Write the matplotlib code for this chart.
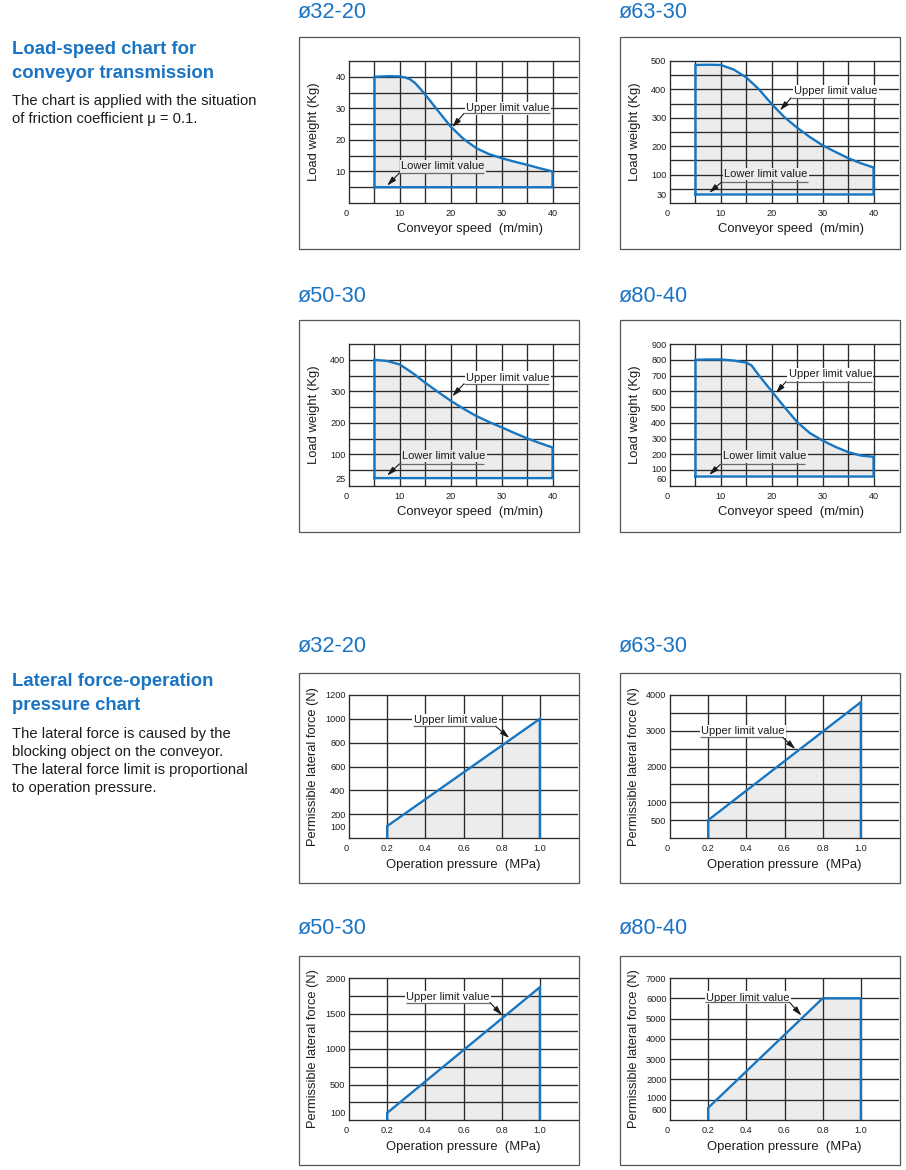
import matplotlib
matplotlib.use('Agg')
import matplotlib.pyplot as plt
import matplotlib.transforms as mtransforms
from matplotlib.patches import Rectangle

plt.rcParams['font.family'] = ['Liberation Sans', 'DejaVu Sans']

# ---------------- data ----------------
# Load-speed charts (conveyor speed m/min -> load weight kg)
speed_32_20 = [5, 8, 10, 11, 12, 13, 14, 15, 16, 17, 18, 20, 22.5, 25, 27.5, 30, 32.5, 35, 37.5, 40]
load_32_20 = [40, 40.2, 40.1, 39.8, 39.2, 38, 36.2, 34.3, 32.3, 30.2, 28.2, 24.2, 20.3, 17.4, 15.5, 14.2, 13.1, 12.1, 11.0, 10.0]
lower_32_20 = 5

speed_63_30 = [5, 7.5, 10, 12.5, 15, 17.5, 20, 22.5, 25, 27.5, 30, 32.5, 35, 37.5, 40]
load_63_30 = [486, 487, 486, 470, 442, 400, 348, 302, 265, 232, 203, 180, 158, 140, 125]
lower_63_30 = 30

speed_50_30 = [5, 7.5, 10, 12.5, 15, 17.5, 20, 22.5, 25, 27.5, 30, 32.5, 35, 37.5, 40]
load_50_30 = [400, 396, 385, 358, 327, 298, 270, 245, 222, 203, 186, 168, 151, 136, 122]
lower_50_30 = 25

speed_80_40 = [5, 7.5, 10, 12.5, 15, 16, 17.5, 20, 22.5, 25, 27.5, 30, 32.5, 35, 37.5, 40]
load_80_40 = [800, 802, 802, 795, 782, 765, 700, 600, 500, 405, 335, 288, 248, 215, 193, 185]
lower_80_40 = 60

speed_ticks = [0, 10, 20, 30, 40]
yticks_32_20 = [10, 20, 30, 40]
yticks_63_30 = [30, 100, 200, 300, 400, 500]
yticks_50_30 = [25, 100, 200, 300, 400]
yticks_80_40 = [60, 100, 200, 300, 400, 500, 600, 700, 800, 900]

# Lateral force charts (operation pressure MPa -> permissible lateral force N)
press_32_20 = [0.2, 1.0]
force_32_20 = [100, 1000]
press_63_30 = [0.2, 1.0]
force_63_30 = [500, 3800]
press_50_30 = [0.2, 1.0]
force_50_30 = [100, 1870]
press_80_40 = [0.2, 0.8, 1.0]
force_80_40 = [600, 6000, 6000]

press_ticks = [0, 0.2, 0.4, 0.6, 0.8, 1.0]
press_labels = ['0', '0.2', '0.4', '0.6', '0.8', '1.0']
fticks_32_20 = [100, 200, 400, 600, 800, 1000, 1200]
fticks_63_30 = [500, 1000, 2000, 3000, 4000]
fticks_50_30 = [100, 500, 1000, 1500, 2000]
fticks_80_40 = [600, 1000, 2000, 3000, 4000, 5000, 6000, 7000]

# ---------------- style ----------------
W, H = 906, 1170
BLUE = '#1776c2'
TITLE_BLUE = '#1a74c4'
GRID = '#2a2a2a'
FILL = '#ececec'
FRAME = '#555555'
TXT = '#1e1c1d'

fig = plt.figure(figsize=(W / 100, H / 100), dpi=100)


def px_axes(x0, y0, x1, y1):
    return fig.add_axes([x0 / W, 1 - y1 / H, (x1 - x0) / W, (y1 - y0) / H])


def frame(x0, y0, x1, y1):
    fig.patches.append(Rectangle((x0 / W, 1 - y1 / H), (x1 - x0) / W, (y1 - y0) / H,
                                 transform=fig.transFigure, fill=False,
                                 edgecolor=FRAME, lw=0.9, zorder=0))


def ftext(x, y, s, **kw):
    fig.text(x / W, 1 - y / H, s, **kw)


def style_axes(ax, xgrid, ygrid, xticks, xlabels, yticks, ymax):
    for gx in xgrid:
        ax.axvline(gx, color=GRID, lw=0.95, zorder=2)
    for gy in ygrid:
        ax.axhline(gy, color=GRID, lw=0.95, zorder=2)
    for side in ['left', 'bottom', 'top']:
        ax.spines[side].set_color(GRID)
        ax.spines[side].set_linewidth(0.95)
    ax.spines['right'].set_visible(False)
    ax.set_xticks(xticks)
    ax.set_xticklabels(xlabels)
    ax.set_yticks(yticks)
    ax.set_yticklabels([str(t) for t in yticks])
    ax.tick_params(length=0, labelsize=6.6, colors=TXT, pad=2.5)
    ax.tick_params(axis='x', pad=4)
    ax.get_xticklabels()[0].set_horizontalalignment('right')
    # the two lowest labels sit very close together on some charts: spread them a touch
    if (yticks[1] - yticks[0]) < 0.07 * ymax:
        labs = ax.get_yticklabels()
        labs[0].set_transform(labs[0].get_transform() +
                              mtransforms.ScaledTranslation(0, -2 / 100, fig.dpi_scale_trans))
        labs[1].set_transform(labs[1].get_transform() +
                              mtransforms.ScaledTranslation(0, 2 / 100, fig.dpi_scale_trans))
    ax.set_facecolor('white')


def note(ax, text, tx, ty, ux0, ux1, uy, start, end, bg):
    ax.text(tx, ty, text, fontsize=8, color=TXT, va='center', ha='left', zorder=5,
            bbox=dict(boxstyle='square,pad=0.12', facecolor=bg, edgecolor='none'))
    ax.plot([ux0, ux1], [uy, uy], color='#6a6a6a', lw=0.9, zorder=5, solid_capstyle='butt')
    ax.annotate('', xy=end, xytext=start, zorder=6,
                arrowprops=dict(arrowstyle='-|>,head_length=0.55,head_width=0.16',
                                color='#1a1a1a', lw=0.8, shrinkA=0, shrinkB=0,
                                mutation_scale=10))


def load_chart(px, speeds, loads, lower, ymax, ystep, yticks, up, low):
    x0, y0, x1, y1 = px
    frame(x0 - 50, y0 - 24, x1 + 1, y1 + 46)
    ax = px_axes(x0, y0, x1, y1)
    ax.set_xlim(0, 45)
    ax.set_ylim(0, ymax)
    xgrid = [5, 10, 15, 20, 25, 30, 35, 40]
    ygrid = [ystep * k for k in range(1, int(round(ymax / ystep)))]
    style_axes(ax, xgrid, ygrid, speed_ticks, [str(t) for t in speed_ticks], yticks, ymax)
    ax.fill_between(speeds, lower, loads, color=FILL, lw=0, zorder=1)
    xs = [speeds[0]] + list(speeds) + [speeds[-1], speeds[0]]
    ys = [lower] + list(loads) + [lower, lower]
    ax.plot(xs, ys, color=BLUE, lw=1.7, zorder=4, solid_joinstyle='miter')
    note(ax, 'Upper limit value', *up, bg='white')
    note(ax, 'Lower limit value', *low, bg=FILL)
    ftext((x0 + x1) / 2 + 6, y1 + 26, 'Conveyor speed  (m/min)', fontsize=9.4,
          color=TXT, ha='center', va='center')
    ftext(x0 - 35, (y0 + y1) / 2, 'Load weight (Kg)', fontsize=9.4, color=TXT,
          ha='center', va='center', rotation=90)
    return ax


def force_chart(px, press, force, ymax, ystep, yticks, up):
    x0, y0, x1, y1 = px
    frame(x0 - 50, y0 - 22, x1 + 1, y1 + 45)
    ax = px_axes(x0, y0, x1, y1)
    ax.set_xlim(0, 1.2)
    ax.set_ylim(0, ymax)
    xgrid = [0.2, 0.4, 0.6, 0.8, 1.0]
    ygrid = [ystep * k for k in range(1, int(round(ymax / ystep)))]
    style_axes(ax, xgrid, ygrid, press_ticks, press_labels, yticks, ymax)
    ax.fill_between(press, 0, force, color=FILL, lw=0, zorder=1)
    xs = [press[0]] + list(press) + [press[-1]]
    ys = [0] + list(force) + [0]
    ax.plot(xs, ys, color=BLUE, lw=1.7, zorder=4, solid_joinstyle='miter')
    note(ax, 'Upper limit value', *up, bg='white')
    ftext((x0 + x1) / 2, y1 + 27, 'Operation pressure  (MPa)', fontsize=9.4,
          color=TXT, ha='center', va='center')
    ftext(x0 - 36, (y0 + y1) / 2, 'Permissible lateral force (N)', fontsize=9.3,
          color=TXT, ha='center', va='center', rotation=90)
    return ax


# ---------------- load-speed charts ----------------
load_chart((349, 61, 578, 203), speed_32_20, load_32_20, lower_32_20, 45, 5, yticks_32_20,
           (23.0, 30.0, 22.6, 39.4, 28.4, (22.6, 28.4), (20.3, 24.0)),
           (10.3, 11.6, 9.9, 26.6, 9.5, (9.9, 9.5), (7.5, 5.5)))
load_chart((670, 61, 899, 203), speed_63_30, load_63_30, lower_63_30, 500, 50, yticks_63_30,
           (24.4, 393, 23.8, 40.4, 370, (23.8, 370), (21.6, 326)),
           (10.6, 102, 10.1, 27.1, 73, (10.1, 73), (7.7, 36)))
load_chart((349, 344, 578, 486), speed_50_30, load_50_30, lower_50_30, 450, 50, yticks_50_30,
           (23.0, 343, 22.6, 39.3, 324, (22.6, 324), (20.3, 284)),
           (10.5, 95, 9.9, 26.6, 70, (9.9, 70), (7.5, 33)))
load_chart((670, 344, 899, 486), speed_80_40, load_80_40, lower_80_40, 900, 100, yticks_80_40,
           (23.3, 708, 22.8, 39.6, 662, (22.8, 662), (20.8, 588)),
           (10.5, 188, 9.9, 26.6, 137, (9.9, 137), (7.7, 70)))

# ---------------- lateral force charts ----------------
force_chart((349, 695, 578, 838), press_32_20, force_32_20, 1200, 200, fticks_32_20,
            (0.339, 990, 0.336, 0.770, 936, (0.770, 936), (0.84, 839)))
force_chart((670, 695, 899, 838), press_63_30, force_63_30, 4000, 500, fticks_63_30,
            (0.162, 2981, 0.158, 0.591, 2813, (0.591, 2813), (0.657, 2486)))
force_chart((349, 978, 578, 1120), press_50_30, force_50_30, 2000, 250, fticks_50_30,
            (0.301, 1734, 0.297, 0.739, 1654, (0.739, 1654), (0.802, 1477)))
force_chart((670, 978, 899, 1120), press_80_40, force_80_40, 7000, 1000, fticks_80_40,
            (0.188, 6033, 0.183, 0.626, 5803, (0.626, 5803), (0.689, 5148)))

# ---------------- titles ----------------
for (x, y, s) in [(298, 13, 'ø32-20'), (619, 13, 'ø63-30'),
                  (298, 296, 'ø50-30'), (619, 296, 'ø80-40'),
                  (298, 646, 'ø32-20'), (619, 646, 'ø63-30'),
                  (298, 929, 'ø50-30'), (619, 929, 'ø80-40')]:
    ftext(x, y, s, fontsize=15.7, color=TITLE_BLUE, ha='left', va='center')

# ---------------- side texts ----------------
ftext(12, 49, 'Load-speed chart for', fontsize=13.3, fontweight='bold', color=TITLE_BLUE, va='center')
ftext(12, 73, 'conveyor transmission', fontsize=13.3, fontweight='bold', color=TITLE_BLUE, va='center')
ftext(12, 101, 'The chart is applied with the situation', fontsize=10.6, color=TXT, va='center')
ftext(12, 119, 'of friction coefficient μ = 0.1.', fontsize=10.6, color=TXT, va='center')

ftext(12, 682, 'Lateral force-operation', fontsize=13.3, fontweight='bold', color=TITLE_BLUE, va='center')
ftext(12, 706, 'pressure chart', fontsize=13.3, fontweight='bold', color=TITLE_BLUE, va='center')
for i, line in enumerate(['The lateral force is caused by the',
                          'blocking object on the conveyor.',
                          'The lateral force limit is proportional',
                          'to operation pressure.']):
    ftext(12, 734 + 18 * i, line, fontsize=10.6, color=TXT, va='center')

fig.savefig('out.png', dpi=100, facecolor='white')
